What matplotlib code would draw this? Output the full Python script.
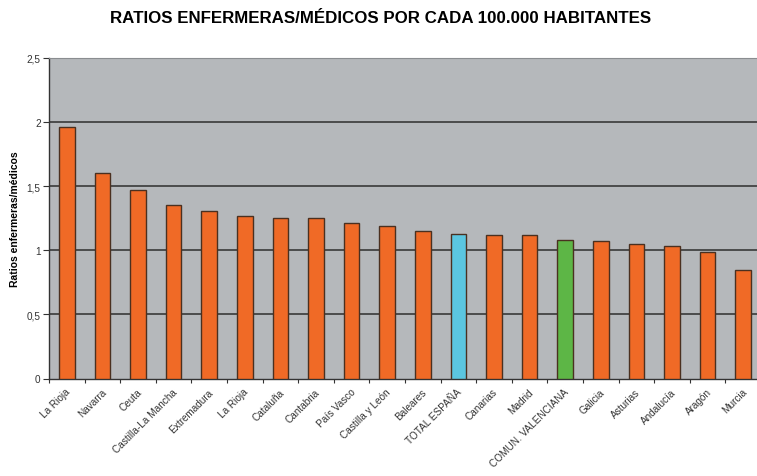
import matplotlib
matplotlib.use("Agg")
import matplotlib.pyplot as plt
import matplotlib.transforms as mtransforms
import numpy as np

categories = ["La Rioja", "Navarra", "Ceuta", "Castilla-La Mancha", "Extremadura",
              "La Rioja", "Cataluña", "Cantabria", "País Vasco", "Castilla y León",
              "Baleares", "TOTAL ESPAÑA", "Canarias", "Madrid", "COMUN. VALENCIANA",
              "Galicia", "Asturias", "Andalucía", "Aragón", "Murcia"]
values = [1.96, 1.60, 1.47, 1.35, 1.31, 1.27, 1.25, 1.25, 1.21, 1.19,
          1.15, 1.13, 1.12, 1.12, 1.08, 1.07, 1.05, 1.03, 0.99, 0.85]
highlight = {"TOTAL ESPAÑA": "#5bc6e0", "COMUN. VALENCIANA": "#5db646"}
yticks = [0, 0.5, 1, 1.5, 2, 2.5]
ytick_labels = ["0", "0,5", "1", "1,5", "2", "2,5"]
title = "RATIOS ENFERMERAS/MÉDICOS POR CADA 100.000 HABITANTES"
ylabel = "Ratios enfermeras/médicos"

plt.rcParams['font.family'] = ['Liberation Sans', 'DejaVu Sans']

W, H = 757, 477
fig = plt.figure(figsize=(W / 100, H / 100), dpi=100)
left, right, top, bottom = 49, 761, 59, 379.5
ax = fig.add_axes([left / W, (H - bottom) / H, (right - left) / W, (bottom - top) / H])
ax.set_facecolor("#b5b8bb")

orange = "#f06a26"
colors = [highlight.get(c, orange) for c in categories]
x = np.arange(len(categories))
ax.bar(x, values, width=0.44, color=colors, edgecolor="#4a3020", linewidth=1.0, zorder=3)

ax.set_xlim(-0.5, len(categories) - 0.5)
ax.set_ylim(0, 2.5)
ax.set_yticks(yticks)
ax.set_yticklabels(ytick_labels, fontsize=7.2, color="#333333")
for yv in yticks[1:-1]:
    ax.axhline(yv, color="#2e2e2e", linewidth=1.1, zorder=2)

# category labels placed under each bar via the x-axis transform
ax.set_xticks(np.arange(-0.5, len(categories), 1))
ax.set_xticklabels([])
ax.tick_params(axis="x", length=3, width=0.8, color="#333333", direction="out")
ax.tick_params(axis="y", length=4, width=0.8, color="#333333", pad=2)
lbl_tr = ax.get_xaxis_transform() + mtransforms.ScaledTranslation(-1.5 / 100, -8 / 100, fig.dpi_scale_trans)
for xi, cat in zip(x, categories):
    ax.text(xi, 0, cat, transform=lbl_tr, rotation=45, ha="right", va="top",
            rotation_mode="anchor", fontsize=7.2, color="#333333")

for s in ["top", "right"]:
    ax.spines[s].set_color("#8a8d90")
    ax.spines[s].set_linewidth(0.8)
for s in ["left", "bottom"]:
    ax.spines[s].set_color("#333333")
    ax.spines[s].set_linewidth(1.0)

ax.set_ylabel(ylabel, fontsize=7.5, fontweight="bold", labelpad=5)
fig.text(381 / W, 1 - 18.5 / H, title, ha="center", va="center", fontsize=12.2, fontweight="bold")

fig.savefig("out.png", dpi=100)
